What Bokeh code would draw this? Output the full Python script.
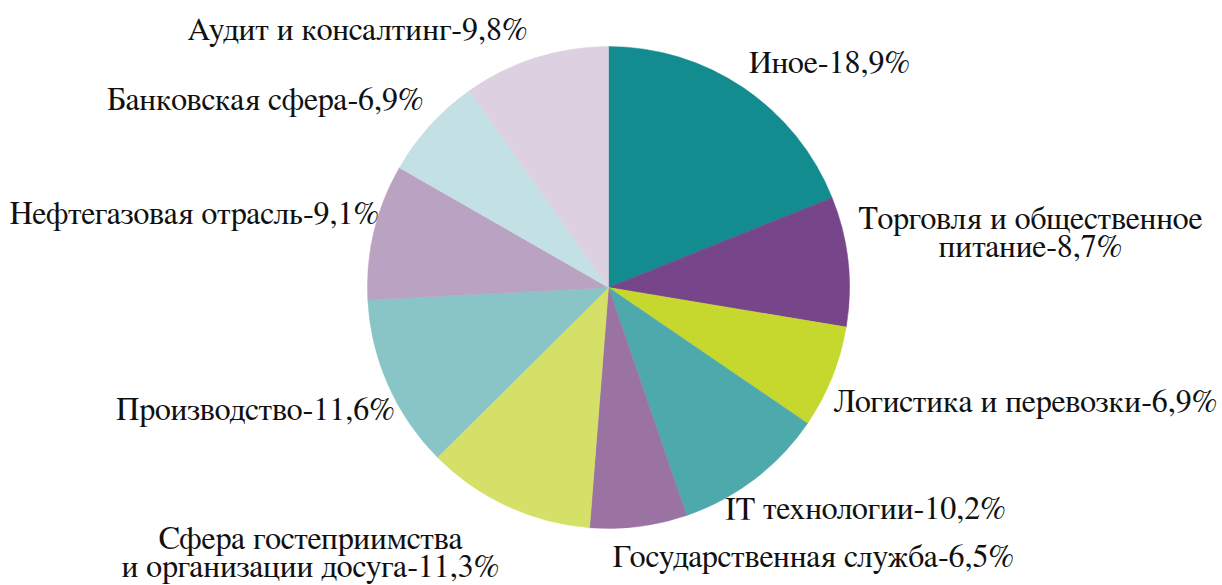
import numpy as np
from bokeh.plotting import figure
from bokeh.models import Range1d, ColumnDataSource
from bokeh.core.properties import value
from bokeh.embed import file_html
from bokeh.resources import INLINE

# ---- data ----
categories = [
    "Иное",
    "Торговля и общественное\nпитание",
    "Логистика и перевозки",
    "IT технологии",
    "Государственная служба",
    "Сфера гостеприимства\nи организации досуга",
    "Производство",
    "Нефтегазовая отрасль",
    "Банковская сфера",
    "Аудит и консалтинг",
]
shares = [18.9, 8.7, 6.9, 10.2, 6.5, 11.3, 11.6, 9.1, 6.9, 9.8]
colors = ["#138C90", "#77468A", "#C6D82E", "#4EA9AC", "#9A73A2",
          "#D4E067", "#89C4C7", "#BAA2C2", "#C3E1E4", "#DDD1E1"]

# ---- layout (screen pixel coords of label anchors: centre x, first baseline y) ----
W, H = 1222, 585
label_pos = [(829, 71), (1030, 227), (1025, 410), (865, 517), (813, 565),
             (310, 547), (255, 418), (194, 222), (265, 108), (357, 38)]
cx, cy, R = 608, 287, 241
y_shift = -9

def sy(y):  # screen y -> data y
    return H - y

p = figure(width=W, height=H, output_backend="svg", toolbar_location=None,
           x_range=Range1d(0, W), y_range=Range1d(0, H), min_border=0)
p.axis.visible = False
p.grid.visible = False
p.outline_line_color = None
p.background_fill_color = "white"

vals = np.array(shares, dtype=float)
frac = vals / vals.sum()
cum = np.concatenate([[0], np.cumsum(frac)])
starts = np.pi / 2 - 2 * np.pi * cum[:-1]
ends = np.pi / 2 - 2 * np.pi * cum[1:]

src = ColumnDataSource(dict(start=starts, end=ends, color=colors))
p.wedge(x=cx, y=sy(cy), radius=R, start_angle="start", end_angle="end",
        direction="clock", fill_color="color", line_color="color",
        line_width=0.5, source=src)

xs, ys, texts = [], [], []
line_h = 28
for cat, v, (lx, ly) in zip(categories, shares, label_pos):
    lines = cat.split("\n")
    lines[-1] = lines[-1] + "-" + f"{v:.1f}".replace(".", ",") + "%"
    for i, ln in enumerate(lines):
        xs.append(lx)
        ys.append(sy(ly + y_shift + i * line_h))
        texts.append(ln)

p.text(x=xs, y=ys, text=texts, text_font=value("FreeSerif"),
       text_font_size="32px", text_align="center", text_baseline="alphabetic",
       text_color="#111111")

open("out.html", "w").write(file_html(p, INLINE))
